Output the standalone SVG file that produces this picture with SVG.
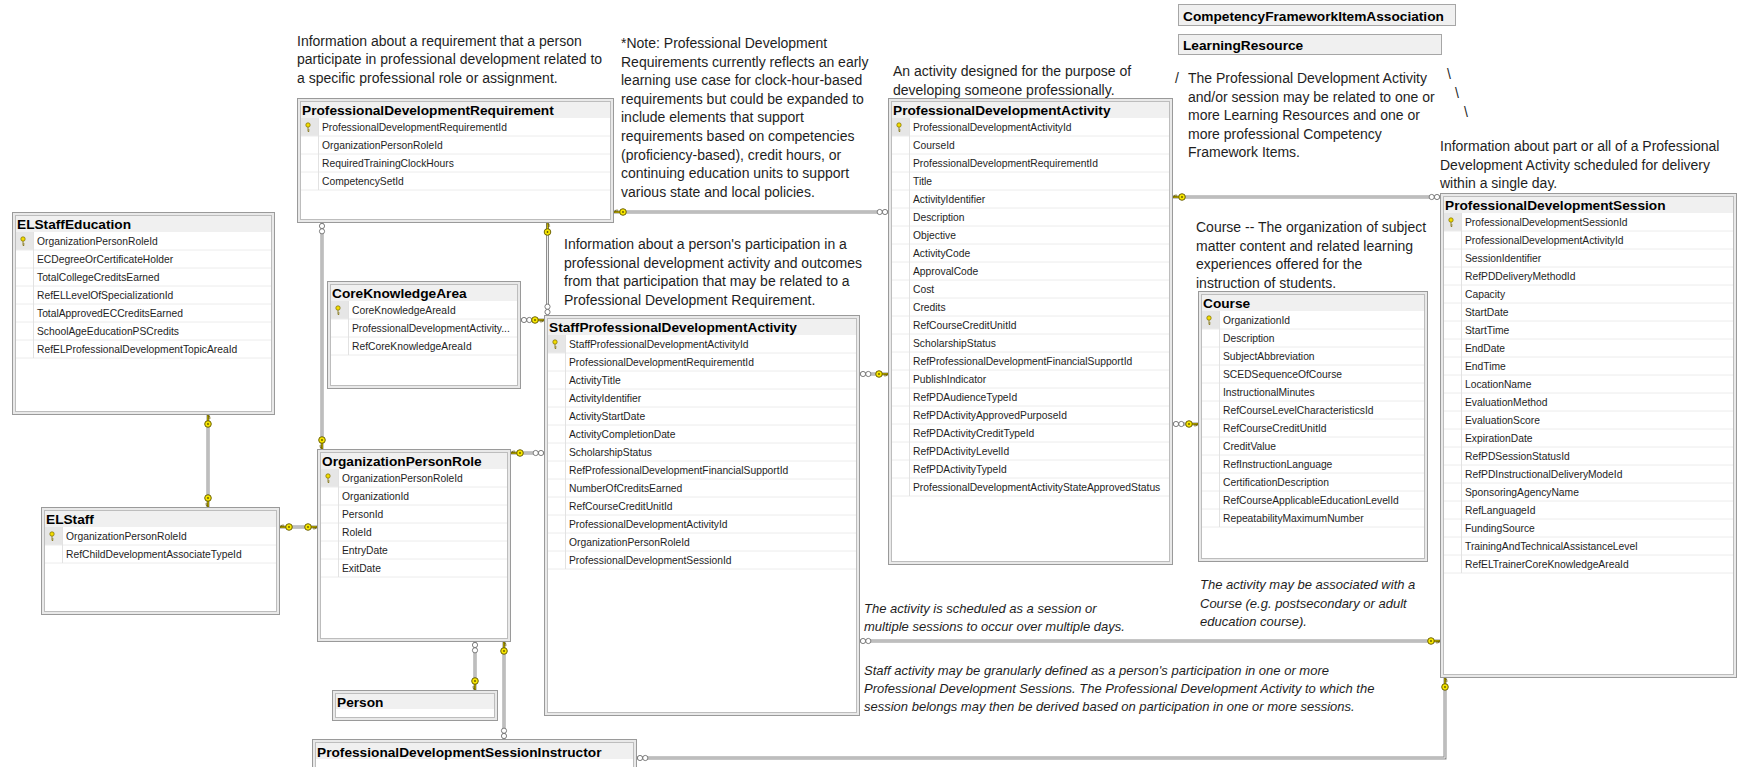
<svg xmlns="http://www.w3.org/2000/svg" width="1738" height="767" viewBox="0 0 1738 767">
<style>
.fr{fill:#e9e9e9;stroke:#9a9a9a;stroke-width:1}
.in{fill:#fff;stroke:#bdbdbd;stroke-width:1}
.hd{fill:#f0f0f0}
.kc{fill:#e6e6e6}
.sep{stroke:#ececec;stroke-width:1;fill:none}
.col{stroke:#e2e2e2;stroke-width:1;fill:none}
.ti{font-family:"Liberation Sans",Arial,sans-serif;font-weight:bold;font-size:13.7px;fill:#000}
.rw{font-family:"Liberation Sans",Arial,sans-serif;font-size:10.3px;fill:#1e1e1e}
.ds{font-family:"Liberation Sans",Arial,sans-serif;font-size:14px;fill:#1e1e1e}
.it{font-family:"Liberation Sans",Arial,sans-serif;font-size:13px;font-style:italic;fill:#1e1e1e}
.lo{stroke:#8e8e8e;stroke-width:3;fill:none}
.li{stroke:#ededed;stroke-width:1;fill:none}
.cb{fill:#f0f0f0;stroke:#a6a6a6;stroke-width:1}
</style>
<defs>
<g id="pk"><circle cx="0" cy="-2" r="2.2" fill="#f2dc00" stroke="#7a6a00" stroke-width="0.7"/><path d="M0 0.2V4.5M0 3h1.6M0 4.5h1.2" stroke="#7a6a00" stroke-width="0.8" fill="none"/></g>
<g id="ck"><path d="M-6 0H0" stroke="#6b5f00" stroke-width="2"/><path d="M-6 0H-0.5" stroke="#f2e200" stroke-width="0.8"/><path d="M-3 0v2.6M-1.3 0v2.1" stroke="#6b5f00" stroke-width="0.9"/><circle cx="-9" cy="0" r="3.3" fill="#f7e600" stroke="#5f5500" stroke-width="0.9"/><circle cx="-9" cy="0" r="0.9" fill="#5f5500"/></g>
<g id="mm"><circle cx="-8.3" cy="0" r="2.6" fill="#fff" stroke="#707070" stroke-width="0.9"/><circle cx="-3" cy="0" r="2.6" fill="#fff" stroke="#707070" stroke-width="0.9"/></g>
</defs>
<rect x="0" y="0" width="1738" height="767" fill="#fff"/>

<g id="notes">
<text class="ds" x="297" y="46"><tspan x="297">Information about a requirement that a person</tspan><tspan x="297" dy="18.3">participate in professional development related to</tspan><tspan x="297" dy="18.3">a specific professional role or assignment.</tspan></text>
<text class="ds" x="621" y="48"><tspan x="621">*Note: Professional Development</tspan><tspan x="621" dy="18.6">Requirements currently reflects an early</tspan><tspan x="621" dy="18.6">learning use case for clock-hour-based</tspan><tspan x="621" dy="18.6">requirements but could be expanded to</tspan><tspan x="621" dy="18.6">include elements that support</tspan><tspan x="621" dy="18.6">requirements based on competencies</tspan><tspan x="621" dy="18.6">(proficiency-based), credit hours, or</tspan><tspan x="621" dy="18.6">continuing education units to support</tspan><tspan x="621" dy="18.6">various state and local policies.</tspan></text>
<text class="ds" x="893" y="76"><tspan x="893">An activity designed for the purpose of</tspan><tspan x="893" dy="18.5">developing someone professionally.</tspan></text>
<text class="ds" x="1175" y="83">/</text>
<text class="ds" x="1188" y="83"><tspan x="1188">The Professional Development Activity</tspan><tspan x="1188" dy="18.5">and/or session may be related to one or</tspan><tspan x="1188" dy="18.5">more Learning Resources and one or</tspan><tspan x="1188" dy="18.5">more professional Competency</tspan><tspan x="1188" dy="18.5">Framework Items.</tspan></text>
<text class="ds" x="1447" y="79">\</text>
<text class="ds" x="1455" y="98">\</text>
<text class="ds" x="1464" y="117">\</text>
<text class="ds" x="1440" y="151"><tspan x="1440">Information about part or all of a Professional</tspan><tspan x="1440" dy="18.5">Development Activity scheduled for delivery</tspan><tspan x="1440" dy="18.5">within a single day.</tspan></text>
<text class="ds" x="1196" y="232"><tspan x="1196">Course -- The organization of subject</tspan><tspan x="1196" dy="18.5">matter content and related learning</tspan><tspan x="1196" dy="18.5">experiences offered for the</tspan><tspan x="1196" dy="18.5">instruction of students.</tspan></text>
<text class="ds" x="564" y="249"><tspan x="564">Information about a person's participation in a</tspan><tspan x="564" dy="18.7">professional development activity and outcomes</tspan><tspan x="564" dy="18.7">from that participation that may be related to a</tspan><tspan x="564" dy="18.7">Professional Development Requirement.</tspan></text>
<text class="it" x="864" y="613"><tspan x="864">The activity is scheduled as a session or</tspan><tspan x="864" dy="17.5">multiple sessions to occur over multiple days.</tspan></text>
<text class="it" x="864" y="675"><tspan x="864">Staff activity may be granularly defined as a person's participation in one or more</tspan><tspan x="864" dy="18">Professional Development Sessions.  The Professional Development Activity to which the</tspan><tspan x="864" dy="18">session belongs may then be derived based on participation in one or more sessions.</tspan></text>
<text class="it" x="1200" y="589"><tspan x="1200">The activity may be associated with a</tspan><tspan x="1200" dy="18.5">Course (e.g. postsecondary or adult</tspan><tspan x="1200" dy="18.5">education course).</tspan></text>
</g>

<g id="n-cfia" transform="translate(1178,4)"><rect class="cb" x="0.5" y="0.5" width="277" height="21"/><text class="ti" x="5" y="16.5">CompetencyFrameworkItemAssociation</text></g>
<g id="n-lr" transform="translate(1178,34)"><rect class="cb" x="0.5" y="0.5" width="263" height="20"/><text class="ti" x="5" y="16">LearningResource</text></g>

<g id="n-pdreq" transform="translate(297,98)">
<rect class="fr" x="0.5" y="0.5" width="316" height="124"/><rect class="in" x="3.5" y="3.5" width="310" height="118"/><rect class="hd" x="4" y="4" width="309" height="16"/>
<text class="ti" x="5" y="17">ProfessionalDevelopmentRequirement</text>
<rect class="kc" x="4" y="20" width="17" height="18"/><use href="#pk" x="11" y="29"/>
<path class="sep" d="M4 38H313M4 56H313M4 74H313M4 92H313"/><path class="col" d="M21.5 20V92"/>
<text class="rw" x="25" y="32.5"><tspan x="25">ProfessionalDevelopmentRequirementId</tspan><tspan x="25" dy="18">OrganizationPersonRoleId</tspan><tspan x="25" dy="18">RequiredTrainingClockHours</tspan><tspan x="25" dy="18">CompetencySetId</tspan></text>
</g>

<g id="n-elstaffeducation" transform="translate(12,212)">
<rect class="fr" x="0.5" y="0.5" width="262" height="202"/><rect class="in" x="3.5" y="3.5" width="256" height="196"/><rect class="hd" x="4" y="4" width="255" height="16"/>
<text class="ti" x="5" y="17">ELStaffEducation</text>
<rect class="kc" x="4" y="20" width="17" height="18"/><use href="#pk" x="11" y="29"/>
<path class="sep" d="M4 38H259M4 56H259M4 74H259M4 92H259M4 110H259M4 128H259M4 146H259"/><path class="col" d="M21.5 20V146"/>
<text class="rw" x="25" y="32.5"><tspan x="25">OrganizationPersonRoleId</tspan><tspan x="25" dy="18">ECDegreeOrCertificateHolder</tspan><tspan x="25" dy="18">TotalCollegeCreditsEarned</tspan><tspan x="25" dy="18">RefELLevelOfSpecializationId</tspan><tspan x="25" dy="18">TotalApprovedECCreditsEarned</tspan><tspan x="25" dy="18">SchoolAgeEducationPSCredits</tspan><tspan x="25" dy="18">RefELProfessionalDevelopmentTopicAreaId</tspan></text>
</g>

<g id="n-coreknowledgearea" transform="translate(327,281)">
<rect class="fr" x="0.5" y="0.5" width="193" height="107"/><rect class="in" x="3.5" y="3.5" width="187" height="101"/><rect class="hd" x="4" y="4" width="186" height="16"/>
<text class="ti" x="5" y="17">CoreKnowledgeArea</text>
<rect class="kc" x="4" y="20" width="17" height="18"/><use href="#pk" x="11" y="29"/>
<path class="sep" d="M4 38H190M4 56H190M4 74H190"/><path class="col" d="M21.5 20V74"/>
<text class="rw" x="25" y="32.5"><tspan x="25">CoreKnowledgeAreaId</tspan><tspan x="25" dy="18">ProfessionalDevelopmentActivity...</tspan><tspan x="25" dy="18">RefCoreKnowledgeAreaId</tspan></text>
</g>

<g id="n-organizationpersonrole" transform="translate(317,449)">
<rect class="fr" x="0.5" y="0.5" width="193" height="192"/><rect class="in" x="3.5" y="3.5" width="187" height="186"/><rect class="hd" x="4" y="4" width="186" height="16"/>
<text class="ti" x="5" y="17">OrganizationPersonRole</text>
<rect class="kc" x="4" y="20" width="17" height="18"/><use href="#pk" x="11" y="29"/>
<path class="sep" d="M4 38H190M4 56H190M4 74H190M4 92H190M4 110H190M4 128H190"/><path class="col" d="M21.5 20V128"/>
<text class="rw" x="25" y="32.5"><tspan x="25">OrganizationPersonRoleId</tspan><tspan x="25" dy="18">OrganizationId</tspan><tspan x="25" dy="18">PersonId</tspan><tspan x="25" dy="18">RoleId</tspan><tspan x="25" dy="18">EntryDate</tspan><tspan x="25" dy="18">ExitDate</tspan></text>
</g>

<g id="n-elstaff" transform="translate(41,507)">
<rect class="fr" x="0.5" y="0.5" width="238" height="107"/><rect class="in" x="3.5" y="3.5" width="232" height="101"/><rect class="hd" x="4" y="4" width="231" height="16"/>
<text class="ti" x="5" y="17">ELStaff</text>
<rect class="kc" x="4" y="20" width="17" height="18"/><use href="#pk" x="11" y="29"/>
<path class="sep" d="M4 38H235M4 56H235"/><path class="col" d="M21.5 20V56"/>
<text class="rw" x="25" y="32.5"><tspan x="25">OrganizationPersonRoleId</tspan><tspan x="25" dy="18">RefChildDevelopmentAssociateTypeId</tspan></text>
</g>

<g id="n-person" transform="translate(332,690)">
<rect class="fr" x="0.5" y="0.5" width="165" height="30"/><rect class="in" x="3.5" y="3.5" width="159" height="24"/><rect class="hd" x="4" y="4" width="158" height="15"/>
<text class="ti" x="5" y="17">Person</text>
</g>

<g id="n-pdsessioninstructor" transform="translate(312,739)">
<rect class="fr" x="0.5" y="0.5" width="324" height="39"/><rect class="in" x="3.5" y="3.5" width="318" height="33"/><rect class="hd" x="4" y="4" width="317" height="16"/>
<text class="ti" x="5" y="18">ProfessionalDevelopmentSessionInstructor</text>
</g>

<g id="n-staffpdactivity" transform="translate(544,315)">
<rect class="fr" x="0.5" y="0.5" width="315" height="400"/><rect class="in" x="3.5" y="3.5" width="309" height="394"/><rect class="hd" x="4" y="4" width="308" height="16"/>
<text class="ti" x="5" y="17">StaffProfessionalDevelopmentActivity</text>
<rect class="kc" x="4" y="20" width="17" height="18"/><use href="#pk" x="11" y="29"/>
<path class="sep" d="M4 38H312M4 56H312M4 74H312M4 92H312M4 110H312M4 128H312M4 146H312M4 164H312M4 182H312M4 200H312M4 218H312M4 236H312M4 254H312"/><path class="col" d="M21.5 20V254"/>
<text class="rw" x="25" y="32.5"><tspan x="25">StaffProfessionalDevelopmentActivityId</tspan><tspan x="25" dy="18">ProfessionalDevelopmentRequirementId</tspan><tspan x="25" dy="18">ActivityTitle</tspan><tspan x="25" dy="18">ActivityIdentifier</tspan><tspan x="25" dy="18">ActivityStartDate</tspan><tspan x="25" dy="18">ActivityCompletionDate</tspan><tspan x="25" dy="18">ScholarshipStatus</tspan><tspan x="25" dy="18">RefProfessionalDevelopmentFinancialSupportId</tspan><tspan x="25" dy="18">NumberOfCreditsEarned</tspan><tspan x="25" dy="18">RefCourseCreditUnitId</tspan><tspan x="25" dy="18">ProfessionalDevelopmentActivityId</tspan><tspan x="25" dy="18">OrganizationPersonRoleId</tspan><tspan x="25" dy="18">ProfessionalDevelopmentSessionId</tspan></text>
</g>

<g id="n-pdactivity" transform="translate(888,98)">
<rect class="fr" x="0.5" y="0.5" width="284" height="466"/><rect class="in" x="3.5" y="3.5" width="278" height="460"/><rect class="hd" x="4" y="4" width="277" height="16"/>
<text class="ti" x="5" y="17">ProfessionalDevelopmentActivity</text>
<rect class="kc" x="4" y="20" width="17" height="18"/><use href="#pk" x="11" y="29"/>
<path class="sep" d="M4 38H281M4 56H281M4 74H281M4 92H281M4 110H281M4 128H281M4 146H281M4 164H281M4 182H281M4 200H281M4 218H281M4 236H281M4 254H281M4 272H281M4 290H281M4 308H281M4 326H281M4 344H281M4 362H281M4 380H281M4 398H281"/><path class="col" d="M21.5 20V398"/>
<text class="rw" x="25" y="32.5"><tspan x="25">ProfessionalDevelopmentActivityId</tspan><tspan x="25" dy="18">CourseId</tspan><tspan x="25" dy="18">ProfessionalDevelopmentRequirementId</tspan><tspan x="25" dy="18">Title</tspan><tspan x="25" dy="18">ActivityIdentifier</tspan><tspan x="25" dy="18">Description</tspan><tspan x="25" dy="18">Objective</tspan><tspan x="25" dy="18">ActivityCode</tspan><tspan x="25" dy="18">ApprovalCode</tspan><tspan x="25" dy="18">Cost</tspan><tspan x="25" dy="18">Credits</tspan><tspan x="25" dy="18">RefCourseCreditUnitId</tspan><tspan x="25" dy="18">ScholarshipStatus</tspan><tspan x="25" dy="18">RefProfessionalDevelopmentFinancialSupportId</tspan><tspan x="25" dy="18">PublishIndicator</tspan><tspan x="25" dy="18">RefPDAudienceTypeId</tspan><tspan x="25" dy="18">RefPDActivityApprovedPurposeId</tspan><tspan x="25" dy="18">RefPDActivityCreditTypeId</tspan><tspan x="25" dy="18">RefPDActivityLevelId</tspan><tspan x="25" dy="18">RefPDActivityTypeId</tspan><tspan x="25" dy="18">ProfessionalDevelopmentActivityStateApprovedStatus</tspan></text>
</g>

<g id="n-course" transform="translate(1198,291)">
<rect class="fr" x="0.5" y="0.5" width="229" height="270"/><rect class="in" x="3.5" y="3.5" width="223" height="264"/><rect class="hd" x="4" y="4" width="222" height="16"/>
<text class="ti" x="5" y="17">Course</text>
<rect class="kc" x="4" y="20" width="17" height="18"/><use href="#pk" x="11" y="29"/>
<path class="sep" d="M4 38H226M4 56H226M4 74H226M4 92H226M4 110H226M4 128H226M4 146H226M4 164H226M4 182H226M4 200H226M4 218H226M4 236H226"/><path class="col" d="M21.5 20V236"/>
<text class="rw" x="25" y="32.5"><tspan x="25">OrganizationId</tspan><tspan x="25" dy="18">Description</tspan><tspan x="25" dy="18">SubjectAbbreviation</tspan><tspan x="25" dy="18">SCEDSequenceOfCourse</tspan><tspan x="25" dy="18">InstructionalMinutes</tspan><tspan x="25" dy="18">RefCourseLevelCharacteristicsId</tspan><tspan x="25" dy="18">RefCourseCreditUnitId</tspan><tspan x="25" dy="18">CreditValue</tspan><tspan x="25" dy="18">RefInstructionLanguage</tspan><tspan x="25" dy="18">CertificationDescription</tspan><tspan x="25" dy="18">RefCourseApplicableEducationLevelId</tspan><tspan x="25" dy="18">RepeatabilityMaximumNumber</tspan></text>
</g>

<g id="n-pdsession" transform="translate(1440,193)">
<rect class="fr" x="0.5" y="0.5" width="296" height="484"/><rect class="in" x="3.5" y="3.5" width="290" height="478"/><rect class="hd" x="4" y="4" width="289" height="16"/>
<text class="ti" x="5" y="17">ProfessionalDevelopmentSession</text>
<rect class="kc" x="4" y="20" width="17" height="18"/><use href="#pk" x="11" y="29"/>
<path class="sep" d="M4 38H293M4 56H293M4 74H293M4 92H293M4 110H293M4 128H293M4 146H293M4 164H293M4 182H293M4 200H293M4 218H293M4 236H293M4 254H293M4 272H293M4 290H293M4 308H293M4 326H293M4 344H293M4 362H293M4 380H293"/><path class="col" d="M21.5 20V380"/>
<text class="rw" x="25" y="32.5"><tspan x="25">ProfessionalDevelopmentSessionId</tspan><tspan x="25" dy="18">ProfessionalDevelopmentActivityId</tspan><tspan x="25" dy="18">SessionIdentifier</tspan><tspan x="25" dy="18">RefPDDeliveryMethodId</tspan><tspan x="25" dy="18">Capacity</tspan><tspan x="25" dy="18">StartDate</tspan><tspan x="25" dy="18">StartTime</tspan><tspan x="25" dy="18">EndDate</tspan><tspan x="25" dy="18">EndTime</tspan><tspan x="25" dy="18">LocationName</tspan><tspan x="25" dy="18">EvaluationMethod</tspan><tspan x="25" dy="18">EvaluationScore</tspan><tspan x="25" dy="18">ExpirationDate</tspan><tspan x="25" dy="18">RefPDSessionStatusId</tspan><tspan x="25" dy="18">RefPDInstructionalDeliveryModeId</tspan><tspan x="25" dy="18">SponsoringAgencyName</tspan><tspan x="25" dy="18">RefLanguageId</tspan><tspan x="25" dy="18">FundingSource</tspan><tspan x="25" dy="18">TrainingAndTechnicalAssistanceLevel</tspan><tspan x="25" dy="18">RefELTrainerCoreKnowledgeAreaId</tspan></text>
</g>

<g id="connectors">
<g class="lo">
<path d="M614 212H888"/><path d="M1173 197H1440"/><path d="M547.5 223V315"/><path d="M322 223V449"/><path d="M521 320H544"/><path d="M511 453H544"/><path d="M208 415V507"/><path d="M280 527H317"/><path d="M475 642V690"/><path d="M504 642V739"/><path d="M860 641H1440"/><path d="M637 758H1445V678"/><path d="M860 374H888"/><path d="M1173 424H1198"/>
</g>
<g class="li">
<path d="M614 212H888"/><path d="M1173 197H1440"/><path d="M547.5 223V315"/><path d="M322 223V449"/><path d="M521 320H544"/><path d="M511 453H544"/><path d="M208 415V507"/><path d="M280 527H317"/><path d="M475 642V690"/><path d="M504 642V739"/><path d="M860 641H1440"/><path d="M637 758H1445V678"/><path d="M860 374H888"/><path d="M1173 424H1198"/>
</g>
<use href="#ck" transform="translate(614,212) rotate(180)"/><use href="#mm" transform="translate(888,212)"/>
<use href="#ck" transform="translate(1173,197) rotate(180)"/><use href="#mm" transform="translate(1440,197)"/>
<use href="#ck" transform="translate(547.5,223) rotate(-90)"/><use href="#mm" transform="translate(547.5,315) rotate(90)"/>
<use href="#mm" transform="translate(322,223) rotate(-90)"/><use href="#ck" transform="translate(322,449) rotate(90)"/>
<use href="#mm" transform="translate(521,320) rotate(180)"/><use href="#ck" transform="translate(544,320)"/>
<use href="#ck" transform="translate(511,453) rotate(180)"/><use href="#mm" transform="translate(544,453)"/>
<use href="#ck" transform="translate(208,415) rotate(-90)"/><use href="#ck" transform="translate(208,507) rotate(90)"/>
<use href="#ck" transform="translate(280,527) rotate(180)"/><use href="#ck" transform="translate(317,527)"/>
<use href="#mm" transform="translate(475,642) rotate(-90)"/><use href="#ck" transform="translate(475,690) rotate(90)"/>
<use href="#ck" transform="translate(504,642) rotate(-90)"/><use href="#mm" transform="translate(504,739) rotate(90)"/>
<use href="#mm" transform="translate(860,641) rotate(180)"/><use href="#ck" transform="translate(1440,641)"/>
<use href="#mm" transform="translate(637,758) rotate(180)"/><use href="#ck" transform="translate(1445,678) rotate(-90)"/>
<use href="#mm" transform="translate(860,374) rotate(180)"/><use href="#ck" transform="translate(888,374)"/>
<use href="#mm" transform="translate(1173,424) rotate(180)"/><use href="#ck" transform="translate(1198,424)"/>
</g>
</svg>
